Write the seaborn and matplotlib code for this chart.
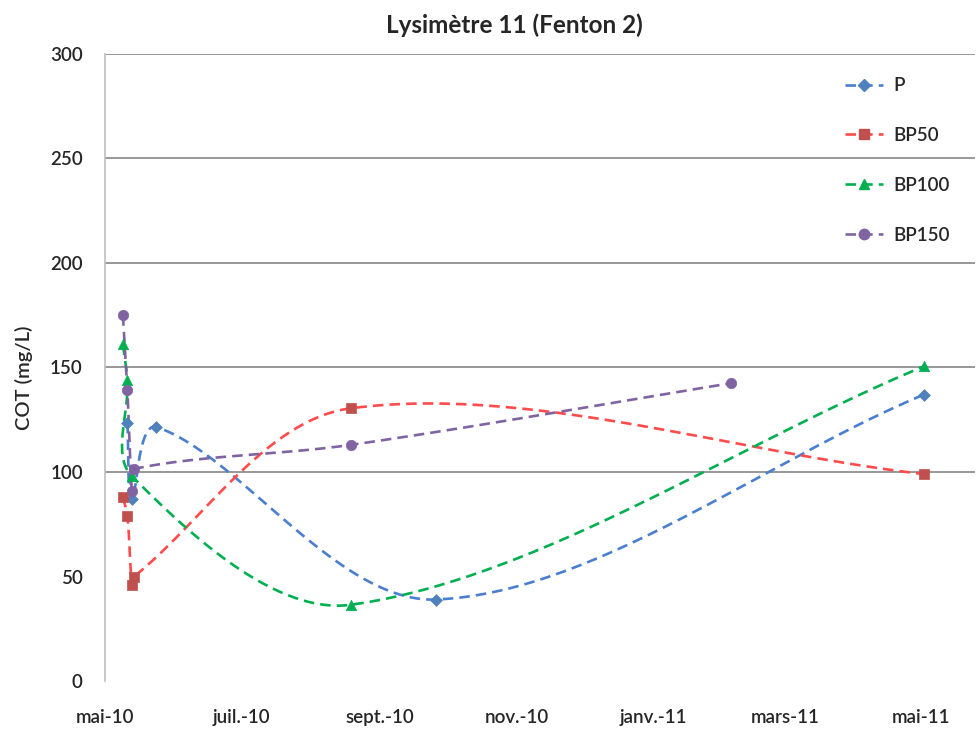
import numpy as np
import pandas as pd
import matplotlib
matplotlib.use('Agg')
import matplotlib.pyplot as plt
import matplotlib.dates as mdates
from matplotlib.lines import Line2D
import seaborn as sns

# --- données ---
p_dates = ['2010-05-11', '2010-05-13', '2010-05-24', '2010-09-26', '2011-05-02']
p_vals = [123.5, 87, 121.5, 39, 137]

bp50_dates = ['2010-05-09', '2010-05-11', '2010-05-13', '2010-05-14', '2010-08-19', '2011-05-02']
bp50_vals = [88, 79, 46, 50, 130.5, 99]

bp100_dates = ['2010-05-09', '2010-05-11', '2010-05-13', '2010-08-19', '2011-05-02']
bp100_vals = [161, 144, 98, 36.5, 150.5]

bp150_dates = ['2010-05-09', '2010-05-11', '2010-05-13', '2010-05-14', '2010-08-19', '2011-02-05']
bp150_vals = [175, 139, 91, 101.5, 113, 142.5]

tick_dates = ['2010-05-01', '2010-07-01', '2010-09-01', '2010-11-01', '2011-01-01', '2011-03-01', '2011-05-01']
tick_labels = ['mai-10', 'juil.-10', 'sept.-10', 'nov.-10', 'janv.-11', 'mars-11', 'mai-11']

series = [
    ('P', p_dates, p_vals, '#4A7FCF', '#4F81BD', 'D', 6),
    ('BP50', bp50_dates, bp50_vals, '#FF4B4B', '#C0504D', 's', 7.5),
    ('BP100', bp100_dates, bp100_vals, '#00B050', '#00B050', '^', 7.5),
    ('BP150', bp150_dates, bp150_vals, '#8064A2', '#8064A2', 'o', 7.5),
]


def smooth(ax, x, y, n=60):
    # lissage type Excel : Catmull-Rom pondéré par longueur de segment, en pixels
    pts = ax.transData.transform(np.column_stack([x, y]))
    m = len(pts)
    ext = np.vstack([pts[0], pts, pts[-1]])
    seglen = np.hypot(*np.diff(ext, axis=0).T)
    out = []
    t = np.linspace(0, 1, n)[:, None]
    for i in range(1, m):
        p0, p1, p2, p3 = ext[i - 1], ext[i], ext[i + 1], ext[i + 2]
        L0, L1, L2 = seglen[i - 1], seglen[i], seglen[i + 1]
        c1 = p1 + (p2 - p0) * L1 / (L0 + L1) / 3
        c2 = p2 - (p3 - p1) * L1 / (L1 + L2) / 3
        seg = ((1 - t) ** 3) * p1 + 3 * ((1 - t) ** 2) * t * c1 + 3 * (1 - t) * t ** 2 * c2 + t ** 3 * p2
        out.append(seg)
    out = ax.transData.inverted().transform(np.vstack(out))
    return out[:, 0], out[:, 1]


sns.set_style('white')
plt.rcParams['font.family'] = ['Lato', 'DejaVu Sans']

fig = plt.figure(figsize=(9.78, 7.29), dpi=100)
ax = fig.add_axes([0.1074, 0.0658, 0.8896, 0.8602])
ax.set_xlim(mdates.date2num(pd.Timestamp('2010-05-01')), mdates.date2num(pd.Timestamp('2011-05-25')))
ax.set_ylim(0, 300)

for y in [100, 150, 200, 250, 300]:
    ax.axhline(y, color='#868686', lw=1.2, zorder=0)

handles = []
for name, d, v, lc, mc, mk, ms in series:
    xn = mdates.date2num(pd.to_datetime(d))
    sx, sy = smooth(ax, xn, np.array(v, dtype=float))
    curve = pd.DataFrame({'x': sx, 'y': sy})
    sns.lineplot(data=curve, x='x', y='y', ax=ax, sort=False, estimator=None,
                 color=lc, lw=1.9, zorder=2)
    ax.lines[-1].set_dashes((4, 2.3))
    pts = pd.DataFrame({'x': xn, 'y': v})
    sns.scatterplot(data=pts, x='x', y='y', ax=ax, marker=mk, s=ms ** 2,
                    color=mc, edgecolor=mc, linewidth=0.5, zorder=3)
    handles.append(Line2D([0], [0], color=lc, lw=1.9, dashes=(4, 2.3),
                          marker=mk, markersize=ms, markerfacecolor=mc, markeredgecolor=mc))

ax.set_xlim(mdates.date2num(pd.Timestamp('2010-05-01')), mdates.date2num(pd.Timestamp('2011-05-25')))
ax.set_ylim(0, 300)
ax.set_yticks([0, 50, 100, 150, 200, 250, 300])
ax.set_xticks(mdates.date2num(pd.to_datetime(tick_dates)))
ax.set_xticklabels(tick_labels)

for s in ['top', 'right', 'bottom']:
    ax.spines[s].set_visible(False)
ax.spines['left'].set_color('#BFBFBF')
ax.spines['left'].set_linewidth(1.2)

ax.tick_params(axis='x', length=3.5, width=1.2, color='#BFBFBF', pad=16.5, labelsize=13.5)
ax.tick_params(axis='y', length=6, width=1.2, color='#868686', pad=10, labelsize=13.5)
for lab in ax.get_xticklabels() + ax.get_yticklabels():
    lab.set_fontweight('semibold')

ax.set_xlabel('')
ax.set_ylabel('COT (mg/L)', fontsize=14.5, fontweight='semibold')
ax.yaxis.set_label_coords(-0.083, 0.483)
ax.set_title('Lysimètre 11 (Fenton 2)', fontsize=17.5, fontweight='bold', pad=15, x=0.47)

ax.legend(handles, [s[0] for s in series], loc='upper right', bbox_to_anchor=(0.99, 0.99),
          frameon=False, labelspacing=1.75, handlelength=2.0, handletextpad=0.55,
          prop={'size': 13.5, 'weight': 'semibold'})

fig.savefig('out.png', dpi=100)
